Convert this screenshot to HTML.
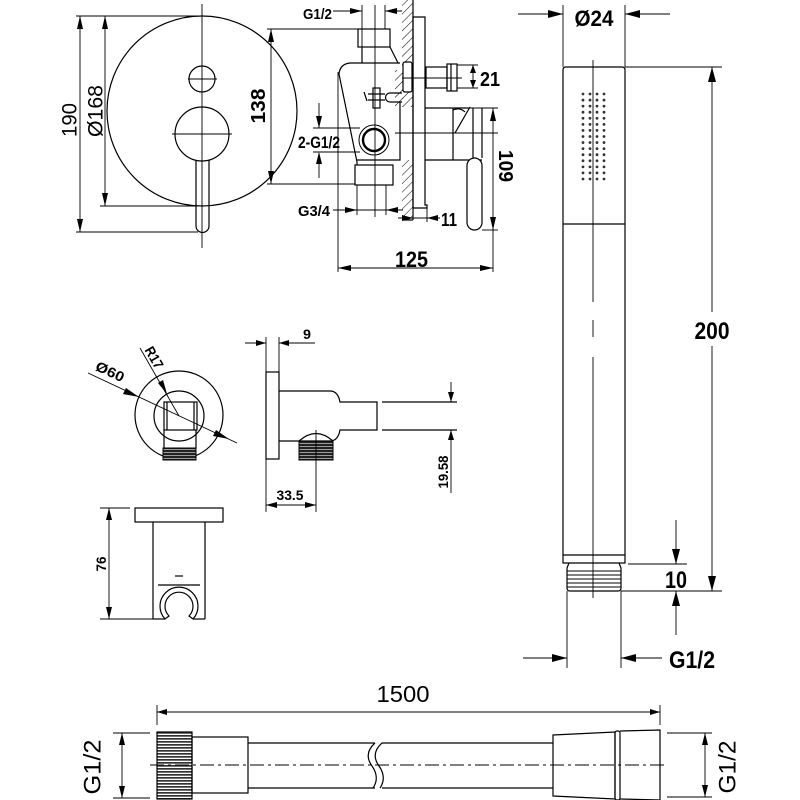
<!DOCTYPE html>
<html><head><meta charset="utf-8"><style>html,body{margin:0;padding:0;background:#fff}svg{display:block}
.b{font-family:"Liberation Sans",sans-serif;font-weight:bold;fill:#000}
.r{font-family:"Liberation Sans",sans-serif;fill:#000}
</style></head>
<body>
<svg width="800" height="800" viewBox="0 0 800 800" xmlns="http://www.w3.org/2000/svg">
<defs>
<pattern id="hatch" width="6" height="10" patternUnits="userSpaceOnUse" patternTransform="rotate(45)"><line x1="0" y1="0" x2="0" y2="10" stroke="#000" stroke-width="1"/></pattern>
<pattern id="knurl" width="6" height="3" patternUnits="userSpaceOnUse"><rect width="6" height="3" fill="#fff"/><rect width="6" height="1.7" fill="#333"/></pattern>
<pattern id="thr" width="6" height="3" patternUnits="userSpaceOnUse"><rect width="6" height="3" fill="#222"/><rect y="2" width="6" height="0.8" fill="#bbb"/></pattern>
</defs>

<g fill="none" stroke="#000" stroke-width="1.2">
<circle cx="202" cy="111" r="95"/>
<circle cx="202" cy="79" r="13"/>
<circle cx="202" cy="134" r="27"/>
<path d="M196,160 V226 A6.5,6.5 0 0 0 209,226 V160"/>
</g>
<g fill="none" stroke="#000" stroke-width="0.9">
<line x1="202" y1="4" x2="202" y2="248"/>
<line x1="188" y1="79" x2="217" y2="79"/>
<line x1="172" y1="134" x2="232" y2="134"/>
<line x1="80" y1="16" x2="80" y2="232"/>
<line x1="76" y1="16" x2="200" y2="16"/>
<line x1="76" y1="232" x2="198" y2="232"/>
<line x1="105" y1="16" x2="105" y2="206"/>
<line x1="100" y1="206" x2="198" y2="206"/>
<line x1="271" y1="29" x2="271" y2="184"/>
<line x1="267" y1="29" x2="358" y2="29"/>
<line x1="267" y1="184" x2="355" y2="184"/>
</g>
<g fill="#000">
<polygon points="80,16 77,29 83,29"/><polygon points="80,232 77,219 83,219"/>
<polygon points="105,16 102,29 108,29"/><polygon points="105,206 102,193 108,193"/>
<polygon points="271,29 268,42 274,42"/><polygon points="271,184 268,171 274,171"/>
</g>
<text class="r" font-size="21" text-anchor="middle" dominant-baseline="central" transform="translate(70,120) rotate(-90)" textLength="34" lengthAdjust="spacingAndGlyphs">190</text>
<text class="r" font-size="21" text-anchor="middle" dominant-baseline="central" transform="translate(96,111) rotate(-90)" textLength="52" lengthAdjust="spacingAndGlyphs">Ø168</text>
<text class="b" font-size="20" text-anchor="middle" dominant-baseline="central" transform="translate(259,106) rotate(-90)" textLength="35" lengthAdjust="spacingAndGlyphs">138</text>

<rect x="402" y="0" width="11" height="107" fill="url(#hatch)"/>
<rect x="395" y="70" width="8" height="37" fill="url(#hatch)"/>
<rect x="402" y="160" width="11" height="60" fill="url(#hatch)"/>
<g fill="none" stroke="#000" stroke-width="1.2">
<line x1="413" y1="0" x2="413" y2="220"/>
<line x1="402" y1="220" x2="413" y2="220"/>
<rect x="358" y="29" width="32" height="18"/>
<path d="M362,47 L362,63 M390,47 L398,63"/>
<path d="M400,63 H350 Q340,64 339,74 L357,162 V165"/>
<path d="M357,160 H400 V102"/>
<rect x="403" y="62" width="9" height="30" rx="2" fill="#fff"/>
<path d="M402,93 H390 A4.5,4.5 0 0 0 390,102 H402"/>
<rect x="373" y="88" width="7" height="20"/>
<line x1="368" y1="94" x2="385" y2="94"/><line x1="368" y1="100" x2="385" y2="100"/>
<line x1="364" y1="92" x2="367" y2="101"/>
<rect x="355" y="165" width="38" height="20"/>
<circle cx="374" cy="140" r="15" stroke-width="1"/>
<circle cx="374" cy="140" r="11" stroke-width="2.4"/>
<path d="M413,17 H425 V205 H427 V208 H413 Z"/>
<rect x="426" y="67" width="21" height="21"/>
<rect x="447" y="64" width="10" height="27"/>
<line x1="451" y1="64" x2="451" y2="91"/>
<path d="M425,108 H468"/>
<path d="M425,160 H482"/>
<path d="M453,108 V160"/>
<path d="M455,133 L470,107"/>
<path d="M453,110 Q460,107 465,112"/>
<line x1="473" y1="108" x2="473" y2="158"/>
<line x1="482" y1="108" x2="482" y2="158"/>
<rect x="467" y="158" width="15" height="72" rx="7.5" fill="#fff"/>
</g>
<g fill="none" stroke="#000" stroke-width="0.9">
<line x1="375" y1="5" x2="375" y2="217"/>
<line x1="362" y1="5" x2="362" y2="47"/>
<line x1="385" y1="5" x2="385" y2="29"/>
<line x1="357" y1="185" x2="357" y2="215"/>
<line x1="386" y1="185" x2="386" y2="215"/>
<line x1="333" y1="11" x2="362" y2="11"/>
<line x1="385" y1="11" x2="402" y2="11"/>
<line x1="319" y1="103" x2="319" y2="128"/>
<line x1="319" y1="153" x2="319" y2="178"/>
<line x1="313" y1="128" x2="360" y2="128"/>
<line x1="313" y1="152" x2="360" y2="152"/>
<line x1="333" y1="210" x2="403" y2="210"/>
<line x1="402" y1="78" x2="462" y2="78"/>
<line x1="395" y1="133" x2="498" y2="133"/>
<line x1="468" y1="108" x2="498" y2="108"/>
<line x1="457" y1="65" x2="478" y2="65"/>
<line x1="457" y1="88" x2="478" y2="88"/>
<line x1="473" y1="65" x2="473" y2="88"/>
<line x1="493" y1="108" x2="493" y2="272"/>
<line x1="482" y1="230" x2="498" y2="230"/>
<line x1="338" y1="72" x2="338" y2="272"/>
<line x1="338" y1="268" x2="493" y2="268"/>
<line x1="427" y1="206" x2="427" y2="222"/>
<line x1="398" y1="218" x2="440" y2="218"/>
</g>
<g fill="#000">
<polygon points="362,11 350,8 350,14"/><polygon points="385,11 397,8 397,14"/>
<polygon points="319,128 316,116 322,116"/><polygon points="319,152 316,164 322,164"/>
<polygon points="357,210 345,207 345,213"/><polygon points="386,210 398,207 398,213"/>
<polygon points="473,65 470,73 476,73"/><polygon points="473,88 470,80 476,80"/>
<polygon points="493,108 490,121 496,121"/><polygon points="493,230 490,217 496,217"/>
<polygon points="338,268 351,265 351,271"/><polygon points="493,268 480,265 480,271"/>
<polygon points="427,218 438,215 438,221"/><polygon points="413,218 402,215 402,221"/>
</g>
<text class="b" font-size="15" x="303" y="19" textLength="29" lengthAdjust="spacingAndGlyphs">G1/2</text>
<text class="b" font-size="17" x="298" y="148" textLength="42" lengthAdjust="spacingAndGlyphs">2-G1/2</text>
<text class="b" font-size="15" x="298" y="216" textLength="32" lengthAdjust="spacingAndGlyphs">G3/4</text>
<text class="b" font-size="20" x="480" y="86" textLength="20" lengthAdjust="spacingAndGlyphs">21</text>
<text class="b" font-size="18" x="441" y="226" textLength="16" lengthAdjust="spacingAndGlyphs">11</text>
<text class="b" font-size="20" text-anchor="middle" dominant-baseline="central" transform="translate(505,166) rotate(90)" textLength="32" lengthAdjust="spacingAndGlyphs">109</text>
<text class="b" font-size="22" x="395" y="267" textLength="33" lengthAdjust="spacingAndGlyphs">125</text>

<g fill="none" stroke="#000" stroke-width="1.2">
<path d="M563,563 V70 Q563,67 566,67 H622 Q625,67 625,70 V563 Z"/>
<line x1="563" y1="224" x2="625" y2="224"/>
<line x1="563" y1="555" x2="625" y2="555"/>
<path d="M569,563 L567,568 V588 Q567,591 570,591 H618 Q621,591 621,588 V568 L619,563"/>
</g>
<g stroke="#000" stroke-width="0.9">
<line x1="567" y1="571" x2="621" y2="571"/><line x1="567" y1="575" x2="621" y2="575"/>
<line x1="567" y1="579" x2="621" y2="579"/><line x1="567" y1="583" x2="621" y2="583"/>
<line x1="567" y1="587" x2="621" y2="587"/>
<line x1="593" y1="60" x2="593" y2="302"/>
<line x1="593" y1="320" x2="593" y2="337"/>
<line x1="593" y1="357" x2="593" y2="598"/>
<line x1="563" y1="5" x2="563" y2="67"/>
<line x1="625" y1="5" x2="625" y2="67"/>
<line x1="518" y1="14" x2="563" y2="14"/>
<line x1="625" y1="14" x2="670" y2="14"/>
<line x1="625" y1="67" x2="722" y2="67"/>
<line x1="621" y1="591" x2="722" y2="591"/>
<line x1="712" y1="67" x2="712" y2="312"/>
<line x1="712" y1="346" x2="712" y2="591"/>
<line x1="628" y1="564" x2="687" y2="564"/>
<line x1="676" y1="520" x2="676" y2="564"/>
<line x1="676" y1="591" x2="676" y2="635"/>
<line x1="567" y1="591" x2="567" y2="668"/>
<line x1="621" y1="591" x2="621" y2="668"/>
<line x1="523" y1="658" x2="567" y2="658"/>
<line x1="621" y1="658" x2="662" y2="658"/>
</g>
<g fill="#000">
<polygon points="563,14 548,10 548,18"/><polygon points="625,14 640,10 640,18"/>
<polygon points="712,67 708,82 716,82"/><polygon points="712,591 708,576 716,576"/>
<polygon points="676,564 672,549 680,549"/><polygon points="676,591 672,606 680,606"/>
<polygon points="567,658 552,654 552,662"/><polygon points="621,658 636,654 636,662"/>
</g>
<g fill="#333">
<g id="dotrow">
<circle cx="583" cy="94" r="1.4"/><circle cx="590" cy="94" r="1.4"/><circle cx="597" cy="94" r="1.4"/><circle cx="604" cy="94" r="1.4"/>
</g>
<use href="#dotrow" y="6.07"/><use href="#dotrow" y="12.14"/><use href="#dotrow" y="18.21"/><use href="#dotrow" y="24.28"/>
<use href="#dotrow" y="30.35"/><use href="#dotrow" y="36.42"/><use href="#dotrow" y="42.49"/><use href="#dotrow" y="48.56"/>
<use href="#dotrow" y="54.63"/><use href="#dotrow" y="60.7"/><use href="#dotrow" y="66.77"/><use href="#dotrow" y="72.84"/>
<use href="#dotrow" y="78.91"/><use href="#dotrow" y="85"/>
</g>
<text class="b" font-size="22" x="594" y="26" text-anchor="middle" textLength="39" lengthAdjust="spacingAndGlyphs">Ø24</text>
<text class="b" font-size="24" x="712" y="339" text-anchor="middle" textLength="35" lengthAdjust="spacingAndGlyphs">200</text>
<text class="b" font-size="24" x="665" y="588" textLength="22" lengthAdjust="spacingAndGlyphs">10</text>
<text class="b" font-size="24" x="669" y="668" textLength="46" lengthAdjust="spacingAndGlyphs">G1/2</text>

<g fill="none" stroke="#000" stroke-width="1.2">
<circle cx="179" cy="415" r="44"/>
<circle cx="179" cy="416" r="25"/>
<rect x="164" y="402" width="33" height="28" fill="#fff"/>
<line x1="167" y1="402" x2="167" y2="430"/><line x1="194" y1="402" x2="194" y2="430"/>
<line x1="164" y1="430" x2="164" y2="448"/><line x1="196" y1="430" x2="196" y2="448"/>
</g>
<rect x="163" y="448" width="33" height="12" fill="url(#thr)" stroke="#000" stroke-width="1"/>
<g stroke="#000" stroke-width="0.9">
<line x1="88" y1="373" x2="237" y2="443"/>
<line x1="140" y1="348" x2="179" y2="416"/>
</g>
<g fill="#000">
<polygon points="139,397 126,388 123,394"/>
<polygon points="229,439 216,430 213,436"/>
<polygon points="167,394 158,383 163,380"/>
</g>
<text class="b" font-size="14" text-anchor="middle" transform="translate(108,376) rotate(25)" textLength="30" lengthAdjust="spacingAndGlyphs">Ø60</text>
<text class="b" font-size="14" text-anchor="middle" transform="translate(150,360) rotate(60)" textLength="23" lengthAdjust="spacingAndGlyphs">R17</text>

<g fill="none" stroke="#000" stroke-width="1.2">
<rect x="266" y="372" width="13" height="87"/>
<path d="M279,391 H330 Q338,391 340,402 H377 V430 H340 Q338,441 330,441 H279"/>
<path d="M299,441 Q316,426 333,441"/>
<line x1="382" y1="402" x2="457" y2="402"/>
<line x1="382" y1="430" x2="457" y2="430"/>
</g>
<rect x="299" y="441" width="34" height="19" fill="url(#thr)" stroke="#000" stroke-width="1"/>
<g stroke="#000" stroke-width="0.9">
<line x1="316" y1="430" x2="316" y2="512"/>
<line x1="266" y1="459" x2="266" y2="512"/>
<line x1="266" y1="505" x2="316" y2="505"/>
<line x1="266" y1="337" x2="266" y2="372"/>
<line x1="279" y1="337" x2="279" y2="372"/>
<line x1="245" y1="343" x2="266" y2="343"/>
<line x1="279" y1="343" x2="315" y2="343"/>
<line x1="451" y1="382" x2="451" y2="402"/>
<line x1="451" y1="430" x2="451" y2="493"/>
</g>
<g fill="#000">
<polygon points="266,505 277,502 277,508"/><polygon points="316,505 305,502 305,508"/>
<polygon points="266,343 256,340 256,346"/><polygon points="279,343 289,340 289,346"/>
<polygon points="451,402 448,392 454,392"/><polygon points="451,430 448,440 454,440"/>
</g>
<text class="b" font-size="14" x="303" y="339" textLength="8" lengthAdjust="spacingAndGlyphs">9</text>
<text class="b" font-size="14" x="290" y="500" text-anchor="middle" textLength="27" lengthAdjust="spacingAndGlyphs">33.5</text>
<text class="b" font-size="14" text-anchor="middle" dominant-baseline="central" transform="translate(443,472) rotate(-90)" textLength="33" lengthAdjust="spacingAndGlyphs">19.58</text>

<g fill="none" stroke="#000" stroke-width="1.2">
<rect x="135" y="508" width="88" height="14"/>
<line x1="153" y1="522" x2="153" y2="619"/>
<line x1="205" y1="522" x2="205" y2="619"/>
<line x1="153" y1="619" x2="165" y2="619"/>
<line x1="193" y1="619" x2="205" y2="619"/>
<line x1="158" y1="585" x2="200" y2="585"/>
<line x1="175" y1="576" x2="183" y2="576"/>
<path d="M165,619 A19,19 0 1 1 193,619 L189,616 A14,14 0 1 0 169,616 Z"/>
</g>
<g stroke="#000" stroke-width="0.9">
<line x1="109" y1="508" x2="109" y2="619"/>
<line x1="100" y1="508" x2="130" y2="508"/>
<line x1="100" y1="619" x2="153" y2="619"/>
</g>
<g fill="#000">
<polygon points="109,508 106,520 112,520"/><polygon points="109,619 106,607 112,607"/>
</g>
<text class="b" font-size="14" text-anchor="middle" dominant-baseline="central" transform="translate(101,564) rotate(-90)" textLength="15" lengthAdjust="spacingAndGlyphs">76</text>

<rect x="157" y="732" width="35" height="67" fill="url(#knurl)" stroke="#000" stroke-width="1.2"/>
<g fill="none" stroke="#000" stroke-width="1.2">
<rect x="192" y="737" width="56" height="56"/>
<line x1="248" y1="743" x2="375" y2="743"/>
<line x1="248" y1="788" x2="375" y2="788"/>
<line x1="382" y1="743" x2="553" y2="743"/>
<line x1="382" y1="788" x2="553" y2="788"/>
<path d="M375,743 C366,751 367,759 372,766 C377,773 378,781 373,788"/>
<path d="M382,743 C373,751 374,759 379,766 C384,773 385,781 380,788"/>
<path d="M553,735 L615,732 V799 L553,796 Z"/>
<rect x="615" y="731" width="5" height="69" rx="2"/>
<path d="M620,731 L660,730 V800 L620,799"/>
</g>
<g stroke="#000" stroke-width="0.9" fill="none">
<line x1="150" y1="765" x2="668" y2="765" stroke-dasharray="14 4 3 4"/>
<line x1="157" y1="705" x2="157" y2="725"/>
<line x1="660" y1="705" x2="660" y2="725"/>
<line x1="157" y1="712" x2="660" y2="712"/>
<line x1="113" y1="733" x2="150" y2="733"/>
<line x1="113" y1="798" x2="150" y2="798"/>
<line x1="122" y1="733" x2="122" y2="798"/>
<line x1="667" y1="733" x2="712" y2="733"/>
<line x1="667" y1="797" x2="712" y2="797"/>
<line x1="705" y1="733" x2="705" y2="797"/>
</g>
<g fill="#000">
<polygon points="157,712 167,709 167,715"/><polygon points="660,712 650,709 650,715"/>
<polygon points="122,733 119,745 125,745"/><polygon points="122,798 119,786 125,786"/>
<polygon points="705,733 702,745 708,745"/><polygon points="705,797 702,785 708,785"/>
</g>
<text class="r" font-size="23" x="403" y="702" text-anchor="middle" textLength="53" lengthAdjust="spacingAndGlyphs">1500</text>
<text class="r" font-size="24" text-anchor="middle" dominant-baseline="central" transform="translate(93,767) rotate(-90)" textLength="55" lengthAdjust="spacingAndGlyphs">G1/2</text>
<text class="r" font-size="24" text-anchor="middle" dominant-baseline="central" transform="translate(728,767) rotate(-90)" textLength="53" lengthAdjust="spacingAndGlyphs">G1/2</text>
</svg>
</body></html>
